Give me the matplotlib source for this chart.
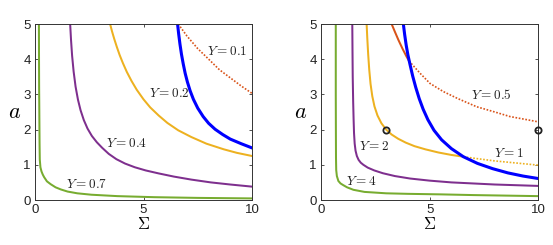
import matplotlib
matplotlib.use("Agg")
import matplotlib.pyplot as plt

plt.rcParams['mathtext.fontset'] = 'cm'
plt.rcParams['font.family'] = ['Liberation Sans', 'DejaVu Sans']

# ---------------- data (left panel) ----------------
L_green_x = [0.18, 0.185, 0.19, 0.20, 0.21, 0.22, 0.25, 0.30, 0.36, 0.42, 0.55, 0.72, 0.95, 1.19, 1.5, 1.95, 2.6, 3.8, 5.5, 7.5, 10.0]
L_green_y = [5.0, 4.0, 3.2, 2.4, 1.6, 1.15, 0.93, 0.81, 0.72, 0.65, 0.53, 0.45, 0.36, 0.30, 0.24, 0.19, 0.15, 0.11, 0.08, 0.06, 0.045]

L_purple_x = [1.62, 1.66, 1.71, 1.78, 1.87, 1.98, 2.1, 2.25, 2.42, 2.62, 2.85, 3.1, 3.4, 3.75, 4.15, 4.6, 5.1, 5.7, 6.4, 7.2, 8.1, 9.0, 10.0]
L_purple_y = [5.0, 4.55, 4.1, 3.65, 3.22, 2.85, 2.55, 2.27, 2.03, 1.82, 1.64, 1.48, 1.31, 1.16, 1.035, 0.93, 0.84, 0.755, 0.665, 0.58, 0.5, 0.44, 0.38]

L_orange_x = [3.46, 3.55, 3.65, 3.77, 3.9, 4.05, 4.23, 4.45, 4.69, 5.0, 5.31, 5.7, 6.1, 6.6, 7.2, 7.9, 8.7, 9.3, 10.0]
L_orange_y = [5.0, 4.79, 4.58, 4.35, 4.12, 3.89, 3.64, 3.38, 3.13, 2.86, 2.63, 2.40, 2.19, 1.98, 1.79, 1.60, 1.44, 1.34, 1.25]

L_blue_x = [6.57, 6.62, 6.68, 6.75, 6.83, 6.92, 7.02, 7.15, 7.3, 7.5, 7.75, 8.0, 8.3, 8.65, 9.0, 9.5, 10.0]
L_blue_y = [5.0, 4.72, 4.43, 4.14, 3.87, 3.60, 3.36, 3.10, 2.86, 2.61, 2.37, 2.18, 2.01, 1.86, 1.73, 1.60, 1.48]

L_red_x = [6.6, 7.0, 7.5, 7.92, 8.5, 9.0, 9.5, 10.0]
L_red_y = [5.0, 4.66, 4.3, 4.05, 3.7, 3.47, 3.24, 3.03]

L_labels = ["$Y = 0.1$", "$Y = 0.2$", "$Y = 0.4$", "$Y = 0.7$"]
L_label_x = [8.86, 6.17, 4.23, 2.36]
L_label_y = [4.21, 3.03, 1.61, 0.45]

# ---------------- data (right panel) ----------------
R_green_x = [0.68, 0.68, 0.685, 0.69, 0.70, 0.73, 0.80, 0.90, 1.03, 1.2, 1.49, 2.0, 2.5, 3.0, 4.0, 5.5, 7.0, 8.5, 10.0]
R_green_y = [5.0, 3.0, 2.0, 1.2, 0.85, 0.68, 0.54, 0.47, 0.42, 0.36, 0.29, 0.23, 0.21, 0.19, 0.175, 0.16, 0.14, 0.125, 0.11]

R_purple_x = [1.44, 1.45, 1.46, 1.48, 1.50, 1.52, 1.55, 1.59, 1.65, 1.73, 1.83, 1.95, 2.15, 2.45, 2.85, 3.4, 4.1, 5.0, 6.0, 7.0, 8.0, 9.0, 10.0]
R_purple_y = [5.0, 4.2, 3.5, 2.8, 2.3, 1.9, 1.6, 1.4, 1.25, 1.14, 1.06, 1.0, 0.92, 0.84, 0.76, 0.68, 0.61, 0.55, 0.5, 0.47, 0.44, 0.42, 0.40]

R_orange_x = [2.10, 2.13, 2.17, 2.22, 2.28, 2.36, 2.46, 2.6, 2.78, 3.0, 3.25, 3.55, 3.9, 4.3, 4.8, 5.4, 6.0, 6.55]
R_orange_y = [5.0, 4.6, 4.15, 3.7, 3.3, 2.95, 2.66, 2.4, 2.18, 2.0, 1.86, 1.74, 1.63, 1.53, 1.44, 1.35, 1.28, 1.23]
R_orange_dot_x = [6.55, 7.0, 7.5, 8.0, 8.5, 9.0, 9.5, 10.0]
R_orange_dot_y = [1.23, 1.19, 1.15, 1.11, 1.08, 1.05, 1.02, 0.99]

R_red_x = [3.25, 3.4, 3.56, 3.75, 3.94, 4.05]
R_red_y = [5.0, 4.78, 4.55, 4.3, 4.07, 3.95]
R_red_dot_x = [4.05, 4.56, 5.02, 5.63, 6.3, 7.16, 8.0, 8.7, 9.4, 10.0]
R_red_dot_y = [3.95, 3.6, 3.31, 3.08, 2.88, 2.65, 2.5, 2.37, 2.29, 2.22]

R_blue_x = [3.79, 3.85, 3.92, 4.0, 4.1, 4.22, 4.36, 4.52, 4.7, 4.92, 5.2, 5.55, 6.0, 6.55, 7.2, 7.9, 8.6, 9.3, 10.0]
R_blue_y = [5.0, 4.7, 4.4, 4.12, 3.84, 3.52, 3.2, 2.88, 2.58, 2.28, 1.98, 1.71, 1.46, 1.23, 1.04, 0.89, 0.77, 0.68, 0.61]

R_points_x = [3.0, 10.0]
R_points_y = [2.0, 2.0]

R_labels = ["$Y = 0.5$", "$Y = 1$", "$Y = 2$", "$Y = 4$"]
R_label_x = [7.85, 8.65, 2.47, 1.86]
R_label_y = [2.97, 1.31, 1.51, 0.52]

# ---------------- styles ----------------
C_BLUE = '#0000FF'
C_ORANGE = '#EDB120'
C_PURPLE = '#7E2F8E'
C_GREEN = '#77AC30'
C_RED = '#D95319'
LW = 1.45
LW_BLUE = 2.2
DOT = (0, (1.0, 1.0))

W, H = 553, 245
fig = plt.figure(figsize=(W / 100, H / 100), dpi=100)
axL = fig.add_axes([35 / W, 45 / H, 217 / W, 176 / H])
axR = fig.add_axes([321 / W, 45 / H, 217.3 / W, 176 / H])

axL.plot(L_green_x, L_green_y, color=C_GREEN, lw=LW)
axL.plot(L_purple_x, L_purple_y, color=C_PURPLE, lw=LW)
axL.plot(L_orange_x, L_orange_y, color=C_ORANGE, lw=LW)
axL.plot(L_red_x, L_red_y, color=C_RED, lw=1.2, ls=DOT)
axL.plot(L_blue_x, L_blue_y, color=C_BLUE, lw=LW_BLUE)
for t, x, y in zip(L_labels, L_label_x, L_label_y):
    axL.text(x, y, t, fontsize=9.5, ha='center', va='center', color='#222222')

axR.plot(R_green_x, R_green_y, color=C_GREEN, lw=LW)
axR.plot(R_purple_x, R_purple_y, color=C_PURPLE, lw=LW)
axR.plot(R_orange_x, R_orange_y, color=C_ORANGE, lw=LW)
axR.plot(R_orange_dot_x, R_orange_dot_y, color=C_ORANGE, lw=1.2, ls=DOT)
axR.plot(R_red_x, R_red_y, color=C_RED, lw=LW)
axR.plot(R_red_dot_x, R_red_dot_y, color=C_RED, lw=1.2, ls=DOT)
axR.plot(R_blue_x, R_blue_y, color=C_BLUE, lw=LW_BLUE)
axR.plot(R_points_x, R_points_y, ls='none', marker='o', ms=4.5, mfc='none',
         mec='#222222', mew=1.3, clip_on=False, zorder=5)
for t, x, y in zip(R_labels, R_label_x, R_label_y):
    axR.text(x, y, t, fontsize=9.5, ha='center', va='center', color='#222222')

for ax in (axL, axR):
    ax.set_xlim(0, 10)
    ax.set_ylim(0, 5)
    ax.set_xticks([0, 5, 10])
    ax.set_yticks([0, 1, 2, 3, 4, 5])
    ax.tick_params(direction='in', length=2.5, width=0.6, top=True, right=True,
                   labelsize=9.5, colors='#333333', labelcolor='#222222', pad=3)
    for s in ax.spines.values():
        s.set_linewidth(0.7)
        s.set_color('#333333')
    ax.set_xlabel(r'$\Sigma$', fontsize=12, labelpad=0)
    ax.set_ylabel(r'$a$', fontsize=16, rotation=0, labelpad=6, va='center')

fig.savefig('out.png', dpi=100)
